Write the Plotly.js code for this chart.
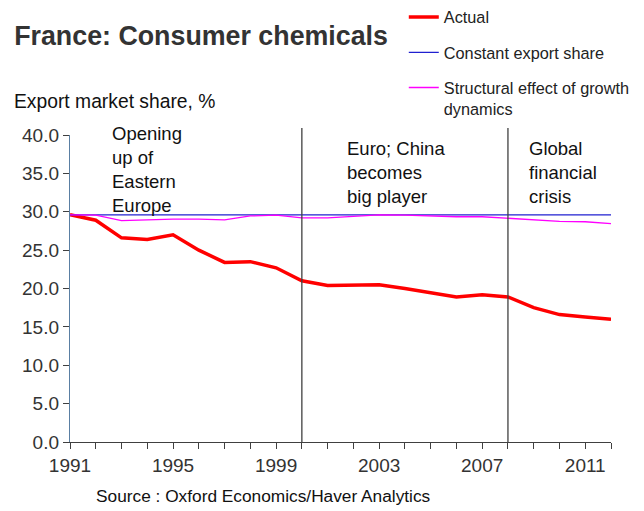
<!DOCTYPE html>
<html>
<head>
<meta charset="utf-8">
<script src="https://cdn.plot.ly/plotly-3.0.1.min.js"></script>
<style>html,body{margin:0;padding:0;background:#fff;}#chart{width:644px;height:511px;}</style>
</head>
<body>
<div id="chart"></div>
<script>
const years = [1991,1992,1993,1994,1995,1996,1997,1998,1999,2000,2001,2002,2003,2004,2005,2006,2007,2008,2009,2010,2011,2012];
const tickLabels = ['1991','','','','1995','','','','1999','','','','2003','','','','2007','','','','2011',''];
const actual = [29.6,28.9,26.6,26.4,27.0,25.0,23.4,23.5,22.7,21.0,20.4,20.4,20.5,20.0,19.4,18.9,19.2,18.9,17.5,16.6,16.3,16.0];
const constantShare = [29.6,29.6,29.6,29.6,29.6,29.6,29.6,29.6,29.6,29.6,29.6,29.6,29.6,29.6,29.6,29.6,29.6,29.6,29.6,29.6,29.6,29.6];
const structural = [29.6,29.55,28.85,28.95,29.05,29.05,28.95,29.45,29.55,29.2,29.2,29.4,29.6,29.55,29.45,29.35,29.35,29.15,28.9,28.75,28.7,28.45];
const eventYears = [2000, 2008];
const eventLabels = ['Opening<br>up of<br>Eastern<br>Europe', 'Euro; China<br>becomes<br>big player', 'Global<br>financial<br>crisis'];
const eventLabelX = [1992.55, 2001.67, 2008.73];
const eventLabelY = [1.045, 0.997, 0.997];

const FONT = 'Liberation Sans, Arial, sans-serif';

const traces = [
  {x: years, y: actual, name: 'Actual', type: 'scatter', mode: 'lines', legendgroup: 'a',
   line: {color: '#ff0000', width: 3.5}},
  {x: years, y: constantShare, name: 'Constant export share', type: 'scatter', mode: 'lines', legendgroup: 'b',
   line: {color: '#2020d0', width: 1.2}},
  {x: years, y: structural, name: 'Structural effect of growth<br>dynamics', type: 'scatter', mode: 'lines', legendgroup: 'c',
   line: {color: '#ff00ff', width: 1.3}}
];

const shapes = eventYears.map(yr => ({
  type: 'line', xref: 'x', yref: 'paper', x0: yr, x1: yr, y0: 0, y1: 1.023,
  line: {color: '#404040', width: 1.3}
}));

const annotations = eventLabels.map((t, i) => ({
  text: t, xref: 'x', yref: 'paper', x: eventLabelX[i], y: eventLabelY[i],
  xanchor: 'left', yanchor: 'top', align: 'left', showarrow: false,
  font: {family: FONT, size: 18.5, color: '#111'}
}));
annotations.push({
  text: 'Export market share, %', xref: 'paper', yref: 'paper', x: -0.1072, y: 1.1107,
  xanchor: 'left', yanchor: 'middle', align: 'left', showarrow: false,
  font: {family: FONT, size: 19.3, color: '#111'}
});
annotations.push({
  text: 'Source : Oxford Economics/Haver Analytics', xref: 'paper', yref: 'paper', x: 0.0444, y: -0.1759,
  xanchor: 'left', yanchor: 'middle', align: 'left', showarrow: false,
  font: {family: FONT, size: 17.3, color: '#111'}
});

const layout = {
  width: 644, height: 511,
  margin: {l: 70, r: 33, t: 135, b: 69, autoexpand: false},
  paper_bgcolor: '#ffffff', plot_bgcolor: '#ffffff',
  font: {family: FONT, color: '#222'},
  title: {text: '<b>France: Consumer chemicals</b>', xref: 'container', yref: 'container',
          x: 0.022, xanchor: 'left', y: 1 - 36 / 511, yanchor: 'middle',
          font: {family: FONT, size: 26.8, color: '#333'}},
  showlegend: true,
  legend: {xref: 'container', yref: 'container', x: 0.627, y: 1.0, xanchor: 'left', yanchor: 'top',
           traceorder: 'grouped', tracegroupgap: 11, itemwidth: 30, valign: 'top',
           bgcolor: 'rgba(0,0,0,0)', font: {family: FONT, size: 16.3, color: '#222'}},
  xaxis: {range: [1991, 2012], tickmode: 'array', tickvals: years, ticktext: tickLabels,
          ticks: 'outside', ticklen: 6, tickcolor: '#404040', tickwidth: 1,
          showline: true, linecolor: '#404040', linewidth: 1.2, showgrid: false, zeroline: false,
          tickfont: {family: FONT, size: 19, color: '#333'}},
  yaxis: {range: [0, 40], tick0: 0, dtick: 5, tickformat: '.1f',
          ticks: 'outside', ticklen: 6, tickcolor: '#404040', tickwidth: 1,
          showline: true, linecolor: '#5a7fa3', linewidth: 1.2, showgrid: false, zeroline: false,
          tickfont: {family: FONT, size: 19, color: '#333'}},
  shapes: shapes,
  annotations: annotations
};

Plotly.newPlot('chart', traces, layout, {displayModeBar: false, staticPlot: true});
</script>
</body>
</html>
